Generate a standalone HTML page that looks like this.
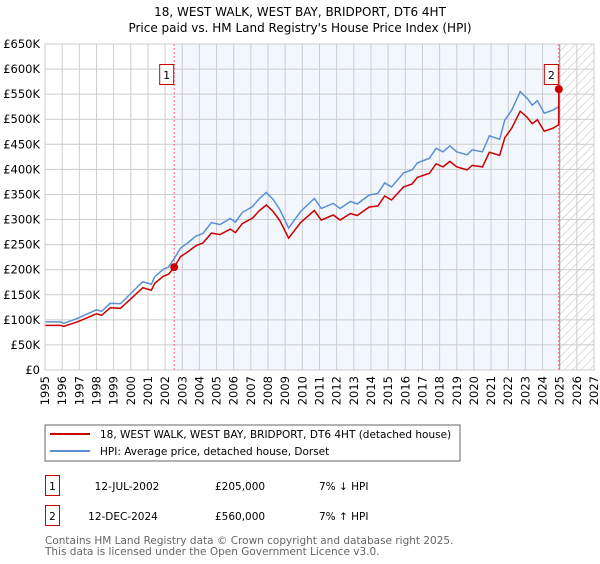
<!DOCTYPE html>
<html><head><meta charset="utf-8"><style>
body{margin:0;background:#fff;font-family:"DejaVu Sans","Liberation Sans",sans-serif;}
svg text{font-family:"DejaVu Sans","Liberation Sans",sans-serif;}
</style></head><body>
<svg id="c" width="600" height="560" viewBox="0 0 600 560" xmlns="http://www.w3.org/2000/svg">
<defs><pattern id="hatch" width="6" height="6" patternUnits="userSpaceOnUse" patternTransform="rotate(45)"><line x1="0" y1="0" x2="0" y2="6" stroke="#bbb" stroke-width="1"/></pattern></defs>
<text x="300" y="16" text-anchor="middle" font-size="12" fill="#000">18, WEST WALK, WEST BAY, BRIDPORT, DT6 4HT</text>
<text x="300" y="32" text-anchor="middle" font-size="12" fill="#000">Price paid vs. HM Land Registry's House Price Index (HPI)</text>
<g id="plot"></g>
<rect x="45" y="425" width="415" height="36" fill="#fff" stroke="#666"/>
<line x1="50" y1="434" x2="90" y2="434" stroke="#cc0000" stroke-width="2"/>
<text x="100" y="438" font-size="10.5">18, WEST WALK, WEST BAY, BRIDPORT, DT6 4HT (detached house)</text>
<line x1="50" y1="451" x2="90" y2="451" stroke="#5b8fd4" stroke-width="2"/>
<text x="100" y="455" font-size="10.5">HPI: Average price, detached house, Dorset</text>
<rect x="45.5" y="475.5" width="14" height="20" fill="#fff" stroke="#cc0000"/>
<text x="52.5" y="490" font-size="10.5" text-anchor="middle">1</text>
<text x="127" y="490" font-size="10.5" text-anchor="middle">12-JUL-2002</text>
<text x="215" y="490" font-size="10.5">£205,000</text>
<text x="319" y="490" font-size="10.5">7% ↓ HPI</text>
<rect x="45.5" y="505.5" width="14" height="20" fill="#fff" stroke="#cc0000"/>
<text x="52.5" y="520" font-size="10.5" text-anchor="middle">2</text>
<text x="123" y="520" font-size="10.5" text-anchor="middle">12-DEC-2024</text>
<text x="215" y="520" font-size="10.5">£560,000</text>
<text x="319" y="520" font-size="10.5">7% ↑ HPI</text>
<text x="45" y="544" font-size="10.5" fill="#666">Contains HM Land Registry data © Crown copyright and database right 2025.</text>
<text x="45" y="555" font-size="10.5" fill="#666">This data is licensed under the Open Government Licence v3.0.</text>
</svg>
<script>
const hpiYears=[1995,1995.9,1996.1,1996.9,1998,1998.3,1998.8,1999.4,2000.1,2000.7,2001.2,2001.4,2001.9,2002.2,2002.6,2002.9,2003.3,2003.8,2004.2,2004.7,2005.2,2005.8,2006.1,2006.5,2007.1,2007.5,2007.9,2008.3,2008.7,2009.2,2009.9,2010.7,2011.1,2011.8,2012.2,2012.8,2013.2,2013.9,2014.4,2014.8,2015.2,2015.9,2016.4,2016.7,2017.4,2017.8,2018.2,2018.6,2019,2019.6,2019.9,2020.5,2020.9,2021.5,2021.8,2022.2,2022.7,2023.1,2023.4,2023.7,2024.1,2024.6,2025.0];
const hpiValues=[96,96,93,103,120,117,133,132,156,176,171,186,201,205,226,243,253,267,272,294,290,302,295,314,326,342,354,340,319,283,316,342,322,332,322,336,331,349,352,373,365,393,399,413,422,442,435,447,435,429,439,435,467,460,498,518,555,542,528,537,512,518,526];
const priceYears=[1995,1995.9,1996.1,1996.9,1998,1998.3,1998.8,1999.4,2000.1,2000.7,2001.2,2001.4,2001.9,2002.2,2002.53,2002.9,2003.3,2003.8,2004.2,2004.7,2005.2,2005.8,2006.1,2006.5,2007.1,2007.5,2007.9,2008.3,2008.7,2009.2,2009.9,2010.7,2011.1,2011.8,2012.2,2012.8,2013.2,2013.9,2014.4,2014.8,2015.2,2015.9,2016.4,2016.7,2017.4,2017.8,2018.2,2018.6,2019,2019.6,2019.9,2020.5,2020.9,2021.5,2021.8,2022.2,2022.7,2023.1,2023.4,2023.7,2024.1,2024.6,2024.94,2024.95];
const priceValues=[89,89,87,96,112,109,124,123,145,164,159,173,187,191,205,226,235,248,253,273,270,281,274,292,303,318,329,316,297,263,294,318,299,309,299,312,308,325,327,347,339,365,371,384,392,411,405,416,405,399,408,405,434,428,463,482,516,504,491,499,476,482,489,560];
const sales=[{n:"1",year:2002.53,value:205},{n:"2",year:2024.95,value:560}];
const yTicks=[0,50,100,150,200,250,300,350,400,450,500,550,600,650];
const yTickLabels=["£0","£50K","£100K","£150K","£200K","£250K","£300K","£350K","£400K","£450K","£500K","£550K","£600K","£650K"];
const xTicks=[1995,1996,1997,1998,1999,2000,2001,2002,2003,2004,2005,2006,2007,2008,2009,2010,2011,2012,2013,2014,2015,2016,2017,2018,2019,2020,2021,2022,2023,2024,2025,2026,2027];

const X0=45,X1=594,Y0=370,Y1=44;
const xs=y=>X0+(y-1995)/(2027-1995)*(X1-X0);
const ys=v=>Y0-v/650*(Y0-Y1);
const NS="http://www.w3.org/2000/svg";
const g=document.getElementById('plot');
function mk(t,a){const e=document.createElementNS(NS,t);for(const k in a)e.setAttribute(k,a[k]);g.appendChild(e);return e;}
let e;
e=mk('rect',{x:xs(2002.53),y:Y1,width:xs(2025)-xs(2002.53),height:Y0-Y1,fill:'#f2f6fd'});


e=mk('rect',{x:xs(2025),y:Y1,width:X1-xs(2025),height:Y0-Y1,fill:'url(#hatch)'});


yTicks.forEach((v,i)=>{
 e=mk('line',{x1:X0,x2:X1,y1:ys(v),y2:ys(v),stroke:'#ccc','stroke-width':1});
 
 
 e=mk('text',{x:40,y:ys(v)+4,'text-anchor':'end','font-size':'11.5',fill:'#000'});
 e.textContent=yTickLabels[i];
 
 
});
xTicks.forEach(t=>{
 e=mk('line',{x1:xs(t),x2:xs(t),y1:Y1,y2:Y0,stroke:'#ccc','stroke-width':1});
 
 
 e=mk('text',{x:0,y:0,'text-anchor':'end','font-size':'11.5',fill:'#000',transform:`translate(${xs(t)+4},376) rotate(-90)`});
 e.textContent=String(t);
 
 
});
e=mk('line',{x1:xs(2025),x2:xs(2025),y1:Y1,y2:Y0,stroke:'#999','stroke-width':1});


sales.forEach(s=>{
 e=mk('line',{x1:xs(s.year),x2:xs(s.year),y1:Y1,y2:Y0,stroke:'#ee6666','stroke-width':1,'stroke-dasharray':'2,2'});
 
 
});
e=mk('polyline',{points:hpiYears.map((y,i)=>xs(y)+','+ys(hpiValues[i])).join(' '),fill:'none',stroke:'#5b8fd4','stroke-width':1.5});


e=mk('polyline',{points:priceYears.map((y,i)=>xs(y)+','+ys(priceValues[i])).join(' '),fill:'none',stroke:'#cc0000','stroke-width':1.5});


sales.forEach(s=>{
 e=mk('circle',{cx:xs(s.year),cy:ys(s.value),r:4,fill:'#cc0000'});
 
 
 const bx=xs(s.year)-7-(s.n==="2"?7:7);
 e=mk('rect',{x:xs(s.year)-14.5,y:64.5,width:14,height:20,fill:'#fff',stroke:'#cc0000'});
 
 
 e=mk('text',{x:xs(s.year)-7.5,y:79,'text-anchor':'middle','font-size':'11',fill:'#000'});
 e.textContent=s.n;
 
 
});
e=mk('rect',{x:X0,y:Y1,width:X1-X0,height:Y0-Y1,fill:'none',stroke:'#ccc'});


</script>
</body></html>
